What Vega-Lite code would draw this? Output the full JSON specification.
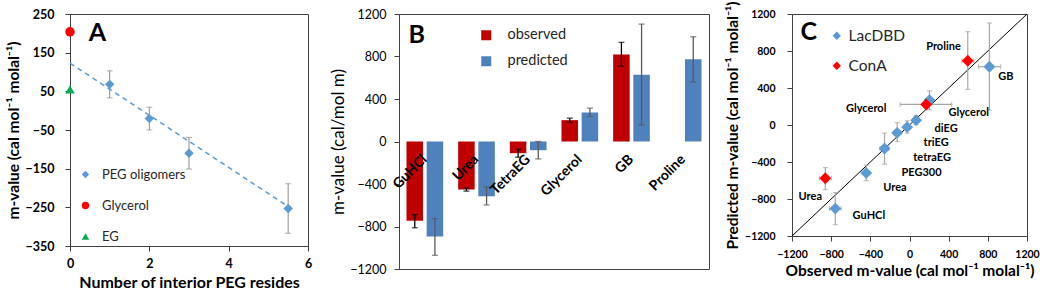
{
  "$schema": "https://vega.github.io/schema/vega-lite/v6.json",
  "padding": {"left": 5, "top": 0, "right": 5, "bottom": 5},
  "background": "white",
  "config": {
    "font": "Lato",
    "view": {"stroke": "#404040", "strokeWidth": 1},
    "axis": {"grid": false, "domainColor": "#404040", "tickColor": "#404040", "labelColor": "#000000", "titleColor": "#000000", "tickSize": 5, "labelOverlap": false, "labelFlush": false, "format": "d"}
  },
  "datasets": {
    "aLine": [{"n": 0, "m": 123}, {"n": 5.5, "m": -248}],
    "aPts": [
      {"n": 1, "m": 68, "lo": 33, "hi": 103, "series": "PEG oligomers"},
      {"n": 2, "m": -20, "lo": -50, "hi": 9, "series": "PEG oligomers"},
      {"n": 3, "m": -110, "lo": -151, "hi": -69, "series": "PEG oligomers"},
      {"n": 5.5, "m": -253, "lo": -317, "hi": -189, "series": "PEG oligomers"},
      {"n": 0, "m": 204, "series": "Glycerol"},
      {"n": 0, "m": 55, "series": "EG"}
    ],
    "aLab": [{"n": 0.69, "m": 200, "t": "A"}],
    "bBars": [
      {"sol": "GuHCl", "series": "observed", "m": -745, "lo": -812, "hi": -688},
      {"sol": "GuHCl", "series": "predicted", "m": -895, "lo": -1071, "hi": -726},
      {"sol": "Urea", "series": "observed", "m": -452, "lo": -467, "hi": -437},
      {"sol": "Urea", "series": "predicted", "m": -515, "lo": -597, "hi": -428},
      {"sol": "TetraEG", "series": "observed", "m": -110, "lo": -148, "hi": -73},
      {"sol": "TetraEG", "series": "predicted", "m": -82, "lo": -164, "hi": 0},
      {"sol": "Glycerol", "series": "observed", "m": 201, "lo": 182, "hi": 220},
      {"sol": "Glycerol", "series": "predicted", "m": 273, "lo": 236, "hi": 314},
      {"sol": "GB", "series": "observed", "m": 820, "lo": 710, "hi": 933},
      {"sol": "GB", "series": "predicted", "m": 628, "lo": 154, "hi": 1105},
      {"sol": "Proline", "series": "predicted", "m": 773, "lo": 559, "hi": 986}
    ],
    "bCats": [{"sol": "GuHCl"}, {"sol": "Urea"}, {"sol": "TetraEG"}, {"sol": "Glycerol"}, {"sol": "GB"}, {"sol": "Proline"}],
    "cDiag": [{"o": -1200, "p": -1200}, {"o": 1200, "p": 1200}],
    "cPts": [
      {"prot": "LacDBD", "name": "GuHCl", "o": -758, "p": -904, "xlo": -818, "xhi": -698, "ylo": -1077, "yhi": -731},
      {"prot": "LacDBD", "name": "Urea", "o": -442, "p": -518, "xlo": -457, "xhi": -427, "ylo": -603, "yhi": -433},
      {"prot": "LacDBD", "name": "PEG300", "o": -255, "p": -254, "xlo": -300, "xhi": -210, "ylo": -424, "yhi": -88},
      {"prot": "LacDBD", "name": "tetraEG", "o": -126, "p": -85, "xlo": -163, "xhi": -89, "ylo": -178, "yhi": 25},
      {"prot": "LacDBD", "name": "triEG", "o": -24, "p": -23, "xlo": -54, "xhi": 6, "ylo": -88, "yhi": 45},
      {"prot": "LacDBD", "name": "diEG", "o": 68, "p": 52, "xlo": 45, "xhi": 91, "ylo": 5, "yhi": 100},
      {"prot": "LacDBD", "name": "Glycerol", "o": 204, "p": 269, "xlo": 185, "xhi": 223, "ylo": 165, "yhi": 370},
      {"prot": "LacDBD", "name": "GB", "o": 816, "p": 630, "xlo": 705, "xhi": 930, "ylo": 161, "yhi": 1103},
      {"prot": "ConA", "name": "Urea", "o": -860, "p": -576, "xlo": -920, "xhi": -800, "ylo": -699, "yhi": -460},
      {"prot": "ConA", "name": "Glycerol", "o": 170, "p": 222, "xlo": -95, "xhi": 430, "ylo": 190, "yhi": 254},
      {"prot": "ConA", "name": "Proline", "o": 595, "p": 695, "xlo": 535, "xhi": 655, "ylo": 384, "yhi": 1009}
    ],
    "cLab": [
      {"o": 347, "p": 839, "t": "Proline"},
      {"o": 983, "p": 521, "t": "GB"},
      {"o": -442, "p": 175, "t": "Glycerol"},
      {"o": 605, "p": 125, "t": "Glycerol"},
      {"o": 374, "p": -45, "t": "diEG"},
      {"o": 272, "p": -193, "t": "triEG"},
      {"o": 231, "p": -356, "t": "tetraEG"},
      {"o": 123, "p": -518, "t": "PEG300"},
      {"o": -149, "p": -681, "t": "Urea"},
      {"o": -1013, "p": -778, "t": "Urea"},
      {"o": -415, "p": -984, "t": "GuHCl"},
      {"o": -1029, "p": 1002, "t": "C"}
    ]
  },
  "bounds": "flush",
  "spacing": 91,
  "resolve": {"scale": {"color": "independent", "shape": "independent"}, "legend": {"color": "independent", "shape": "independent"}},
  "hconcat": [
    {
      "width": 238,
      "height": 232,
      "layer": [
        {
          "data": {"name": "aLine"},
          "mark": {"type": "line", "color": "#5B9BD5", "strokeDash": [5, 4], "strokeWidth": 1.5},
          "encoding": {
            "x": {"field": "n", "type": "quantitative", "title": "Number of interior PEG resides", "scale": {"domain": [0, 6], "nice": false},
              "axis": {"values": [0, 2, 4, 6], "tickCount": 12, "labelFlush": false, "labelFontSize": 12.5, "labelFontWeight": "bold", "titleFontSize": 16, "titleFontWeight": "bold", "labelPadding": 6, "titlePadding": 5}},
            "y": {"field": "m", "type": "quantitative", "title": "m-value (cal mol⁻¹ molal⁻¹)", "scale": {"domain": [-350, 250], "nice": false, "zero": false},
              "axis": {"values": [-350, -250, -150, -50, 50, 150, 250], "tickCount": 12, "labelFontSize": 12.5, "labelFontWeight": "bold", "titleFontSize": 15.5, "titleFontWeight": "bold", "labelPadding": 11, "titlePadding": 4}}
          }
        },
        {
          "data": {"name": "aPts"},
          "transform": [{"filter": "isValid(datum.lo)"}],
          "mark": {"type": "rule", "color": "#8C8C8C", "strokeWidth": 1},
          "encoding": {
            "x": {"field": "n", "type": "quantitative", "title": "Number of interior PEG resides"},
            "y": {"field": "lo", "type": "quantitative", "title": "m-value (cal mol⁻¹ molal⁻¹)"},
            "y2": {"field": "hi"}
          }
        },
        {
          "data": {"name": "aPts"},
          "transform": [{"filter": "isValid(datum.lo)"}],
          "mark": {"type": "tick", "orient": "horizontal", "size": 6, "thickness": 1, "color": "#8C8C8C"},
          "encoding": {
            "x": {"field": "n", "type": "quantitative", "title": "Number of interior PEG resides"},
            "y": {"field": "lo", "type": "quantitative", "title": "m-value (cal mol⁻¹ molal⁻¹)"}
          }
        },
        {
          "data": {"name": "aPts"},
          "transform": [{"filter": "isValid(datum.lo)"}],
          "mark": {"type": "tick", "orient": "horizontal", "size": 6, "thickness": 1, "color": "#8C8C8C"},
          "encoding": {
            "x": {"field": "n", "type": "quantitative", "title": "Number of interior PEG resides"},
            "y": {"field": "hi", "type": "quantitative", "title": "m-value (cal mol⁻¹ molal⁻¹)"}
          }
        },
        {
          "data": {"name": "aPts"},
          "mark": {"type": "point", "filled": true, "size": 90, "opacity": 1},
          "encoding": {
            "x": {"field": "n", "type": "quantitative", "title": "Number of interior PEG resides"},
            "y": {"field": "m", "type": "quantitative", "title": "m-value (cal mol⁻¹ molal⁻¹)"},
            "shape": {"field": "series", "type": "nominal", "scale": {"domain": ["PEG oligomers", "Glycerol", "EG"], "range": ["diamond", "circle", "triangle-up"]},
              "legend": {"orient": "none", "legendX": 9, "legendY": 154, "title": null, "labelFontSize": 13, "labelColor": "#262626", "symbolSize": 55, "rowPadding": 17, "labelOffset": 10}},
            "color": {"field": "series", "type": "nominal", "scale": {"domain": ["PEG oligomers", "Glycerol", "EG"], "range": ["#5B9BD5", "#FF0000", "#00B050"]},
              "legend": {"orient": "none", "legendX": 9, "legendY": 154, "title": null, "labelFontSize": 13, "labelColor": "#262626", "symbolSize": 55, "rowPadding": 17, "labelOffset": 10}}
          }
        },
        {
          "data": {"name": "aLab"},
          "mark": {"type": "text", "fontSize": 25, "fontWeight": "bold", "color": "#000000"},
          "encoding": {
            "x": {"field": "n", "type": "quantitative", "title": "Number of interior PEG resides"},
            "y": {"field": "m", "type": "quantitative", "title": "m-value (cal mol⁻¹ molal⁻¹)"},
            "text": {"field": "t"}
          }
        }
      ]
    },
    {
      "bounds": "flush",
      "spacing": 83,
      "resolve": {"scale": {"color": "independent", "shape": "independent"}, "legend": {"color": "independent", "shape": "independent"}},
      "hconcat": [
        {
          "width": 310,
          "height": 255,
          "layer": [
            {
              "data": {"name": "bBars"},
              "mark": {"type": "bar"},
              "encoding": {
                "x": {"field": "sol", "type": "nominal", "axis": null, "scale": {"domain": ["GuHCl", "Urea", "TetraEG", "Glycerol", "GB", "Proline"], "paddingInner": 0.29, "paddingOuter": 0.145}},
                "xOffset": {"field": "series", "type": "nominal", "scale": {"domain": ["observed", "predicted"], "paddingInner": 0.18, "paddingOuter": 0}},
                "y": {"field": "m", "type": "quantitative", "title": "m-value (cal/mol m)", "scale": {"domain": [-1200, 1200], "nice": false},
                  "axis": {"values": [-1200, -800, -400, 0, 400, 800, 1200], "tickCount": 12, "labelFontSize": 12.5, "titleFontSize": 17, "titleFontWeight": "normal", "labelPadding": 8, "titlePadding": 2}},
                "color": {"field": "series", "type": "nominal", "scale": {"domain": ["observed", "predicted"], "range": ["#C00000", "#4F81BD"]},
                  "legend": {"orient": "none", "legendX": 80, "legendY": 14, "title": null, "symbolType": "square", "symbolSize": 100, "symbolStrokeWidth": 0, "labelFontSize": 14.5, "labelColor": "#262626", "rowPadding": 11, "labelOffset": 14}}
              }
            },
            {
              "data": {"name": "bBars"},
              "mark": {"type": "rule", "strokeWidth": 1.3},
              "encoding": {
                "x": {"field": "sol", "type": "nominal", "axis": null},
                "xOffset": {"field": "series", "type": "nominal"},
                "y": {"field": "lo", "type": "quantitative", "title": "m-value (cal/mol m)"},
                "y2": {"field": "hi"},
                "color": {"condition": {"test": "datum.series === 'observed'", "value": "#000000"}, "value": "#595959"}
              }
            },
            {
              "data": {"name": "bBars"},
              "mark": {"type": "tick", "orient": "horizontal", "size": 6, "thickness": 1.3},
              "encoding": {
                "x": {"field": "sol", "type": "nominal", "axis": null},
                "xOffset": {"field": "series", "type": "nominal"},
                "y": {"field": "lo", "type": "quantitative", "title": "m-value (cal/mol m)"},
                "color": {"condition": {"test": "datum.series === 'observed'", "value": "#000000"}, "value": "#595959"}
              }
            },
            {
              "data": {"name": "bBars"},
              "mark": {"type": "tick", "orient": "horizontal", "size": 6, "thickness": 1.3},
              "encoding": {
                "x": {"field": "sol", "type": "nominal", "axis": null},
                "xOffset": {"field": "series", "type": "nominal"},
                "y": {"field": "hi", "type": "quantitative", "title": "m-value (cal/mol m)"},
                "color": {"condition": {"test": "datum.series === 'observed'", "value": "#000000"}, "value": "#595959"}
              }
            },
            {
              "mark": {"type": "rule", "color": "#404040", "strokeWidth": 1},
              "encoding": {"y": {"datum": 0, "type": "quantitative", "title": "m-value (cal/mol m)"}}
            },
            {
              "data": {"name": "bCats"},
              "mark": {"type": "text", "angle": 315, "align": "right", "baseline": "middle", "fontSize": 14, "fontWeight": "bold", "color": "#000000"},
              "encoding": {
                "x": {"field": "sol", "type": "nominal", "axis": null},
                "y": {"datum": -150, "type": "quantitative", "title": "m-value (cal/mol m)"},
                "text": {"field": "sol"}
              }
            },
            {
              "data": {"values": [{"t": "B"}]},
              "mark": {"type": "text", "fontSize": 25, "fontWeight": "bold", "color": "#000000", "dx": -8},
              "encoding": {
                "x": {"datum": "GuHCl", "type": "nominal", "axis": null},
                "y": {"datum": 1000, "type": "quantitative", "title": "m-value (cal/mol m)"},
                "text": {"field": "t"}
              }
            }
          ]
        },
        {
          "width": 235,
          "height": 222,
          "layer": [
            {
              "data": {"name": "cDiag"},
              "mark": {"type": "line", "color": "#000000", "strokeWidth": 1},
              "encoding": {
                "x": {"field": "o", "type": "quantitative", "title": "Observed m-value (cal mol⁻¹ molal⁻¹)", "scale": {"domain": [-1200, 1200], "nice": false},
                  "axis": {"values": [-1200, -800, -400, 0, 400, 800, 1200], "tickCount": 12, "labelFlush": false, "labelFontSize": 10.5, "labelFontWeight": "bold", "titleFontSize": 15.5, "titleFontWeight": "bold", "labelPadding": 8, "titlePadding": 4}},
                "y": {"field": "p", "type": "quantitative", "title": "Predicted m-value (cal mol⁻¹ molal⁻¹)", "scale": {"domain": [-1200, 1200], "nice": false},
                  "axis": {"values": [-1200, -800, -400, 0, 400, 800, 1200], "tickCount": 12, "labelFontSize": 10.5, "labelFontWeight": "bold", "titleFontSize": 15.5, "titleFontWeight": "bold", "labelPadding": 12, "titlePadding": 4}}
              }
            },
            {
              "data": {"name": "cPts"},
              "mark": {"type": "rule", "color": "#A6A6A6", "strokeWidth": 1.2},
              "encoding": {
                "x": {"field": "xlo", "type": "quantitative", "title": "Observed m-value (cal mol⁻¹ molal⁻¹)"},
                "x2": {"field": "xhi"},
                "y": {"field": "p", "type": "quantitative", "title": "Predicted m-value (cal mol⁻¹ molal⁻¹)"}
              }
            },
            {
              "data": {"name": "cPts"},
              "mark": {"type": "tick", "orient": "vertical", "size": 5, "thickness": 1.2, "color": "#A6A6A6"},
              "encoding": {
                "x": {"field": "xlo", "type": "quantitative", "title": "Observed m-value (cal mol⁻¹ molal⁻¹)"},
                "y": {"field": "p", "type": "quantitative", "title": "Predicted m-value (cal mol⁻¹ molal⁻¹)"}
              }
            },
            {
              "data": {"name": "cPts"},
              "mark": {"type": "tick", "orient": "vertical", "size": 5, "thickness": 1.2, "color": "#A6A6A6"},
              "encoding": {
                "x": {"field": "xhi", "type": "quantitative", "title": "Observed m-value (cal mol⁻¹ molal⁻¹)"},
                "y": {"field": "p", "type": "quantitative", "title": "Predicted m-value (cal mol⁻¹ molal⁻¹)"}
              }
            },
            {
              "data": {"name": "cPts"},
              "mark": {"type": "rule", "color": "#A6A6A6", "strokeWidth": 1.2},
              "encoding": {
                "x": {"field": "o", "type": "quantitative", "title": "Observed m-value (cal mol⁻¹ molal⁻¹)"},
                "y": {"field": "ylo", "type": "quantitative", "title": "Predicted m-value (cal mol⁻¹ molal⁻¹)"},
                "y2": {"field": "yhi"}
              }
            },
            {
              "data": {"name": "cPts"},
              "mark": {"type": "tick", "orient": "horizontal", "size": 5, "thickness": 1.2, "color": "#A6A6A6"},
              "encoding": {
                "x": {"field": "o", "type": "quantitative", "title": "Observed m-value (cal mol⁻¹ molal⁻¹)"},
                "y": {"field": "ylo", "type": "quantitative", "title": "Predicted m-value (cal mol⁻¹ molal⁻¹)"}
              }
            },
            {
              "data": {"name": "cPts"},
              "mark": {"type": "tick", "orient": "horizontal", "size": 5, "thickness": 1.2, "color": "#A6A6A6"},
              "encoding": {
                "x": {"field": "o", "type": "quantitative", "title": "Observed m-value (cal mol⁻¹ molal⁻¹)"},
                "y": {"field": "yhi", "type": "quantitative", "title": "Predicted m-value (cal mol⁻¹ molal⁻¹)"}
              }
            },
            {
              "data": {"name": "cPts"},
              "mark": {"type": "point", "shape": "diamond", "filled": true, "size": 140, "opacity": 1},
              "encoding": {
                "x": {"field": "o", "type": "quantitative", "title": "Observed m-value (cal mol⁻¹ molal⁻¹)"},
                "y": {"field": "p", "type": "quantitative", "title": "Predicted m-value (cal mol⁻¹ molal⁻¹)"},
                "color": {"field": "prot", "type": "nominal", "scale": {"domain": ["LacDBD", "ConA"], "range": ["#5B9BD5", "#FF0000"]},
                  "legend": {"orient": "none", "legendX": 37, "legendY": 14, "title": null, "symbolType": "diamond", "symbolSize": 70, "labelFontSize": 15.5, "labelColor": "#262626", "rowPadding": 13, "labelOffset": 4}}
              }
            },
            {
              "data": {"name": "cLab"},
              "mark": {"type": "text", "fontSize": 11, "fontWeight": "bold", "color": "#000000"},
              "encoding": {
                "x": {"field": "o", "type": "quantitative", "title": "Observed m-value (cal mol⁻¹ molal⁻¹)"},
                "y": {"field": "p", "type": "quantitative", "title": "Predicted m-value (cal mol⁻¹ molal⁻¹)"},
                "text": {"field": "t"},
                "size": {"condition": {"test": "datum.t === 'C'", "value": 25}, "value": 11}
              }
            }
          ]
        }
      ]
    }
  ]
}
